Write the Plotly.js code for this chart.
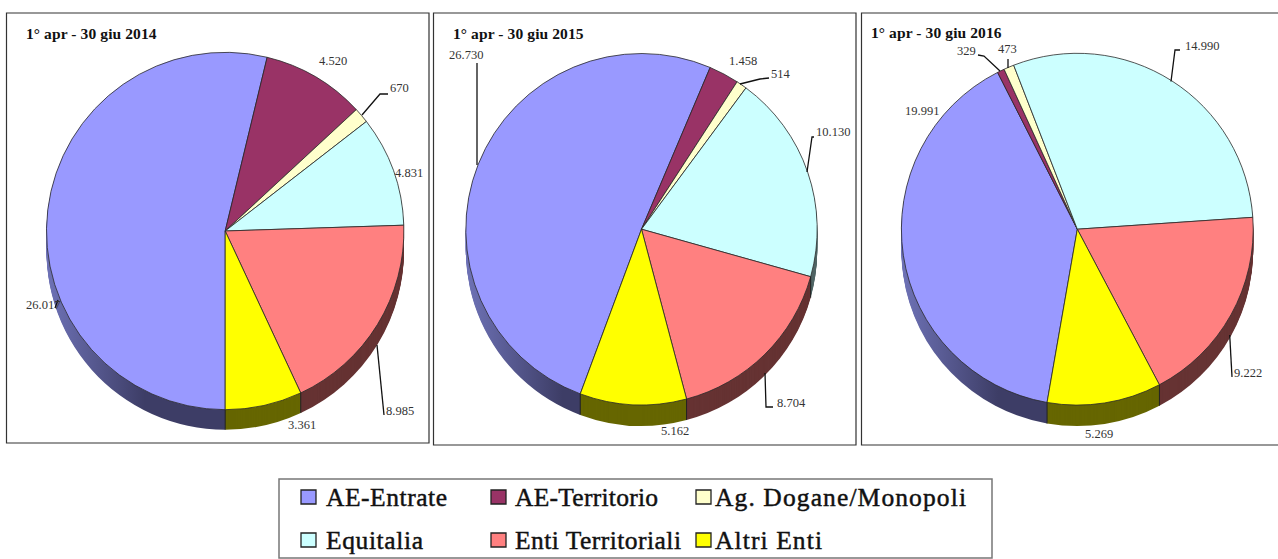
<!DOCTYPE html>
<html>
<head>
<meta charset="utf-8">
<script src="https://cdn.plot.ly/plotly-3.0.0.min.js"></script>
<style>html,body{margin:0;padding:0;background:#fff;overflow:hidden}#chart{width:1278px;height:559px}</style>
</head>
<body>
<div id="chart"></div>
<script>
const categories = ['AE-Entrate','AE-Territorio','Ag. Dogane/Monopoli','Equitalia','Enti Territoriali','Altri Enti'];
const topColors = ['#9999ff','#993366','#ffffcc','#ccffff','#ff8080','#ffff00'];
const rimColors = ['#3d3d66','#3d1429','#666652','#516666','#663333','#666600'];
const values2014 = [26017,4520,670,4831,8985,3361];
const values2015 = [26730,1458,514,10130,8704,5162];
const values2016 = [19991,329,473,14990,9222,5269];
const titles = ['1° apr - 30 giu 2014','1° apr - 30 giu 2015','1° apr - 30 giu 2016'];

const W = 1278, H = 559;
const X = p => p / W, Y = p => 1 - p / H;
const panels = [
  {values: values2014, cx: 225.2, cy: 231, r: 178.7, depth: 20, rot: 180, frame: [6.5,13,429,443], titleX: 25, titleY: 33},
  {values: values2015, cx: 641.5, cy: 229.2, r: 175.7, depth: 21, rot: 200.4, frame: [433.5,13,856,445], titleX: 452, titleY: 33},
  {values: values2016, cx: 1077.3, cy: 229.2, r: 175.9, depth: 21, rot: 189.9, frame: [861.5,13,1290,445], titleX: 870, titleY: 32}
];
// label text, anchor x, y (centre), anchor side
const labels = [
  ['4.520',333,61,'center'],['670',387.5,88,'left'],['4.831',408.5,173,'center'],['26.017',43,305,'center'],['3.361',301.5,425,'center'],['8.985',400,411,'center'],
  ['26.730',466,55,'center'],['1.458',743,61,'center'],['514',769,73.5,'left'],['10.130',833,132,'center'],['8.704',791,403,'center'],['5.162',675,431,'center'],
  ['329',966,51,'center'],['473',1007,49,'center'],['14.990',1202,46,'center'],['19.991',922,111,'center'],['9.222',1248,373,'center'],['5.269',1099,434,'center']
];
const leaders = [
  [[362,115],[380,94],[388,94]],
  [[377,345],[384,415]],
  [[58,300],[55,308]],
  [[477,165],[477,63]],
  [[740,84],[760,79],[769,78]],
  [[807,172],[812,137],[814,137]],
  [[765,373],[766,407],[773,407]],
  [[1000,71],[984,56],[978,55]],
  [[1008,68],[1008,59]],
  [[1171,81.5],[1175,50],[1180,50]],
  [[1229.7,335],[1232,377]]
];
const legendSwatchX = [301,491,696,301,491,696];
const legendTextStart = [326,515,715,326,515,715];
const legendTextEnd = [447,658,966,423,681,822];
const legendY = [497,540];

const traces = [], shapes = [], annotations = [];
panels.forEach(p => {
  const dom = dy => ({
    x: [X(p.cx - p.r), X(p.cx + p.r)],
    y: [Y(p.cy + dy + p.r), Y(p.cy + dy - p.r)]
  });
  for (let d = p.depth; d >= 0; d--) {
    const top = d === 0;
    traces.push({
      type: 'pie', labels: categories, values: p.values, sort: false, direction: 'clockwise',
      rotation: p.rot, domain: dom(d), textinfo: 'none', hoverinfo: top ? 'label+value' : 'skip', showlegend: false,
      marker: {colors: top ? topColors : rimColors,
        line: {color: top ? '#2a2a2a' : 'rgba(0,0,0,0)', width: top ? 0.8 : 0}},
      meta: top ? 'top' : 'rim' + panels.indexOf(p)
    });
  }
  const total = p.values.reduce((a,b)=>a+b,0);
  let a = p.rot;
  p.values.forEach(v => {
    const deg = ((a % 360) + 360) % 360;
    if (deg > 92 && deg < 268) {
      const rad = deg * Math.PI / 180;
      const x = p.cx + p.r * Math.sin(rad), y = p.cy - p.r * Math.cos(rad);
      shapes.push({type:'line', xref:'paper', yref:'paper', x0:X(x), x1:X(x), y0:Y(y), y1:Y(y+p.depth), line:{color:'#222', width:1}});
    }
    a += v / total * 360;
  });
  const f = p.frame;
  shapes.push({type:'rect', xref:'paper', yref:'paper', x0:X(f[0]), x1:X(f[2]), y0:Y(f[1]), y1:Y(f[3]), line:{color:'#333', width:1.2}});
});
titles.forEach((t,i) => annotations.push({
  text: t, xref:'paper', yref:'paper', x:X(panels[i].titleX), y:Y(panels[i].titleY), xanchor:'left', yanchor:'middle', showarrow:false,
  font:{family:'Liberation Serif', size:15.5, color:'#111', weight:700}
}));
labels.forEach(l => annotations.push({
  text:l[0], xref:'paper', yref:'paper', x:X(l[1]), y:Y(l[2]), xanchor:l[3], yanchor:'middle', showarrow:false,
  font:{family:'Liberation Serif', size:12.5, color:'#333'}
}));
leaders.forEach(pts => shapes.push({
  type:'path', xref:'paper', yref:'paper',
  path: pts.map((q,i)=>(i?'L':'M')+X(q[0])+','+Y(q[1])).join(' '),
  line:{color:'#111', width:1.3}
}));
shapes.push({type:'rect', xref:'paper', yref:'paper', x0:X(279), x1:X(992), y0:Y(479), y1:Y(558), line:{color:'#777', width:1.5}});
categories.forEach((c,i) => {
  const y = legendY[i < 3 ? 0 : 1];
  shapes.push({type:'rect', xref:'paper', yref:'paper', x0:X(legendSwatchX[i]), x1:X(legendSwatchX[i]+15), y0:Y(y-7), y1:Y(y+7),
    fillcolor: topColors[i], line:{color:'#222', width:1.3}});
  annotations.push({text:c, xref:'paper', yref:'paper', x:X(legendTextStart[i]), y:Y(y), xanchor:'left', yanchor:'middle', showarrow:false,
    font:{family:'Liberation Serif', size:25.5, color:'#111'}});
});

Plotly.newPlot('chart', traces, {
  width: W, height: H, margin:{l:0,r:0,t:0,b:0}, paper_bgcolor:'#fff', plot_bgcolor:'#fff',
  showlegend:false, shapes, annotations
}, {displayModeBar:false}).then(gd => {
  const svg = gd.querySelector('.main-svg');
  const defs = svg.querySelector('defs');
  const NS = 'http://www.w3.org/2000/svg';
  panels.forEach((p,k) => {
    const g = document.createElementNS(NS,'linearGradient');
    g.setAttribute('id','rimShade'+k); g.setAttribute('gradientUnits','userSpaceOnUse');
    g.setAttribute('x1', p.cx - p.r); g.setAttribute('x2', p.cx - p.r * 0.45); g.setAttribute('y1','0'); g.setAttribute('y2','0');
    [['0','#6e72b6'],['1','#3d3d66']].forEach(s => {
      const st = document.createElementNS(NS,'stop'); st.setAttribute('offset',s[0]); st.setAttribute('stop-color',s[1]); g.appendChild(st);
    });
    defs.appendChild(g);
  });
  gd.querySelectorAll('.pielayer .trace').forEach((tr,i) => {
    const m = gd.data[i] && gd.data[i].meta;
    if (m && m.indexOf('rim') === 0) {
      const s = tr.querySelector('.slice path.surface');
      if (s) s.style.fill = 'url(#rimShade' + m.slice(3) + ')';
    }
  });
  gd.querySelectorAll('.annotation-text').forEach(t => {
    const i = categories.indexOf(t.textContent);
    if (i >= 0) {
      // fit each legend entry to the width it has in the reference
      t.setAttribute('lengthAdjust','spacing');
      t.setAttribute('textLength', legendTextEnd[i] - legendTextStart[i]);
      t.style.stroke = '#111';
      t.style.strokeWidth = '0.45px';
      const left = t.getBoundingClientRect().left;
      const x0 = parseFloat(t.getAttribute('x')) || 0;
      t.setAttribute('x', x0 + legendTextStart[i] - left);
    }
    if (titles.indexOf(t.textContent) >= 0) t.style.letterSpacing = '0.1px';
  });
});
</script>
</body>
</html>
